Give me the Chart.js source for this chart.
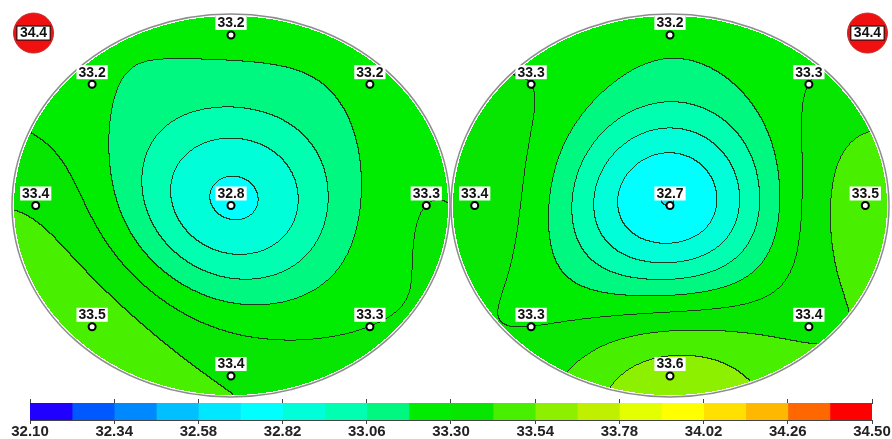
<!DOCTYPE html>
<html>
<head>
<meta charset="utf-8">
<script src="https://cdn.jsdelivr.net/npm/chart.js@4.4.0/dist/chart.umd.min.js"></script>
<style>
body{margin:0;background:#fff;}
#wrap{position:relative;width:892px;height:439px;overflow:hidden;}
#mapa{position:absolute;left:0;top:0;}
#barra{position:absolute;left:0;top:393px;}
</style>
</head>
<body>
<div id="wrap">
<canvas id="mapa" width="892" height="439"></canvas>
<canvas id="barra" width="892" height="46"></canvas>
</div>
<script>
//Pontos de medicao (raio 1 = borda do disco)
var pontosX = [0, -0.64, 0.64, -0.9, 0, 0.9, -0.64, 0.64, 0];
var pontosY = [0.9, 0.64, 0.64, 0, 0, 0, -0.64, -0.64, -0.9];
var valoresEsq = [33.2, 33.2, 33.2, 33.4, 32.8, 33.3, 33.5, 33.3, 33.4];
var valoresDir = [33.2, 33.3, 33.3, 33.4, 32.7, 33.5, 33.3, 33.4, 33.6];
var centros = [0, 2.023];

//marcador vermelho do canto
var cantoX = [-0.91, 0.91];
var cantoY = [0.91, 0.91];
var valorMax = [34.4, 34.4];

//escala de cores
var ticksEscala = [32.10, 32.34, 32.58, 32.82, 33.06, 33.30, 33.54, 33.78, 34.02, 34.26, 34.50];
var limites = [32.10, 32.22, 32.34, 32.46, 32.58, 32.70, 32.82, 32.94, 33.06, 33.18, 33.30,
               33.42, 33.54, 33.66, 33.78, 33.90, 34.02, 34.14, 34.26, 34.38, 34.50];
var cores = ['#2000ff', '#0058ff', '#0088ff', '#00c0ff', '#00e8ff', '#00ffff', '#00ffd8', '#00ffb0',
             '#00f880', '#00ec00', '#06e600', '#48f000', '#8cf000', '#c0f000', '#e4ff00', '#ffff00',
             '#ffe000', '#ffb800', '#ff6800', '#ff0000'];

var fonte = '"Liberation Sans", Arial, sans-serif';
var alcance = 0.54; //largura da funcao gaussiana

function rgb(hex){
    return [parseInt(hex.substr(1,2),16), parseInt(hex.substr(3,2),16), parseInt(hex.substr(5,2),16)];
}
var coresRgb = cores.map(rgb);

//interpolacao RBF gaussiana + plano pelos pontos medidos
function phi(r){ return Math.exp(-(r/alcance)*(r/alcance)); }

function montarSuperficie(xs, ys, zs){
    var n = zs.length, m = n + 3;
    var A = [], b = [];
    for (var i = 0; i < m; i++){ A.push(new Array(m).fill(0)); b.push(0); }
    for (var i = 0; i < n; i++){
        for (var j = 0; j < n; j++){
            A[i][j] = phi(Math.hypot(xs[i]-xs[j], ys[i]-ys[j]));
        }
        A[i][n] = 1; A[i][n+1] = xs[i]; A[i][n+2] = ys[i];
        A[n][i] = 1; A[n+1][i] = xs[i]; A[n+2][i] = ys[i];
        b[i] = zs[i];
    }
    //eliminacao de gauss
    for (var c = 0; c < m; c++){
        var p = c;
        for (var r = c+1; r < m; r++) if (Math.abs(A[r][c]) > Math.abs(A[p][c])) p = r;
        var t = A[c]; A[c] = A[p]; A[p] = t;
        var tb = b[c]; b[c] = b[p]; b[p] = tb;
        for (var r = c+1; r < m; r++){
            var f = A[r][c] / A[c][c];
            for (var k = c; k < m; k++) A[r][k] -= f * A[c][k];
            b[r] -= f * b[c];
        }
    }
    var w = new Array(m).fill(0);
    for (var r = m-1; r >= 0; r--){
        var s = b[r];
        for (var k = r+1; k < m; k++) s -= A[r][k] * w[k];
        w[r] = s / A[r][r];
    }
    return function(u, v){
        var z = w[n] + w[n+1]*u + w[n+2]*v;
        for (var i = 0; i < n; i++) z += w[i] * phi(Math.hypot(u-xs[i], v-ys[i]));
        return z;
    };
}

function faixaDe(z){
    var k = 0;
    while (k < cores.length-1 && z >= limites[k+1]) k++;
    return k;
}

var pluginCampo = {
    id: 'campo',
    beforeDatasetsDraw: function(chart){
        var ctx = chart.ctx;
        var xs = chart.scales.x, ys = chart.scales.y;
        var W = chart.width, H = chart.height;
        var img = ctx.getImageData(0, 0, W, H);
        var px = img.data;
        var linha = [30, 60, 30];
        var elipses = [];
        [valoresEsq, valoresDir].forEach(function(vals, d){
            var f = montarSuperficie(pontosX, pontosY, vals);
            var cx = xs.getPixelForValue(centros[d]), cy = ys.getPixelForValue(0);
            var rx = xs.getPixelForValue(centros[d]+1) - cx, ry = cy - ys.getPixelForValue(1);
            elipses.push([cx, cy, rx, ry]);
            var x0 = Math.max(0, Math.floor(cx-rx)), x1 = Math.min(W-1, Math.ceil(cx+rx));
            var y0 = Math.max(0, Math.floor(cy-ry)), y1 = Math.min(H-1, Math.ceil(cy+ry));
            var w = x1-x0+1, h = y1-y0+1;
            var faixa = new Int16Array(w*h).fill(-1);
            for (var j = 0; j < h; j++){
                for (var i = 0; i < w; i++){
                    var u = (x0+i+0.5-cx)/rx, v = -(y0+j+0.5-cy)/ry;
                    if (u*u+v*v > 1) continue;
                    faixa[j*w+i] = faixaDe(f(u, v));
                }
            }
            for (var j = 0; j < h; j++){
                for (var i = 0; i < w; i++){
                    var k = faixa[j*w+i];
                    if (k < 0) continue;
                    var borda = false;
                    if (i < w-1 && faixa[j*w+i+1] >= 0 && faixa[j*w+i+1] != k) borda = true;
                    if (j < h-1 && faixa[(j+1)*w+i] >= 0 && faixa[(j+1)*w+i] != k) borda = true;
                    var c = borda ? linha : coresRgb[k];
                    var o = ((y0+j)*W + x0+i)*4;
                    px[o] = c[0]; px[o+1] = c[1]; px[o+2] = c[2]; px[o+3] = 255;
                }
            }
        });
        ctx.putImageData(img, 0, 0);
        ctx.save();
        ctx.strokeStyle = '#8c8c8c';
        ctx.lineWidth = 1.5;
        elipses.forEach(function(e){
            ctx.beginPath();
            ctx.ellipse(e[0], e[1], e[2]+2, e[3]+2, 0, 0, Math.PI*2);
            ctx.stroke();
        });
        ctx.restore();
    },
    afterDatasetsDraw: function(chart){
        var ctx = chart.ctx;
        ctx.save();
        ctx.font = 'bold 14px ' + fonte;
        ctx.textAlign = 'center';
        ctx.textBaseline = 'middle';
        [valoresEsq, valoresDir].forEach(function(vals, d){
            chart.getDatasetMeta(d).data.forEach(function(pt, i){
                var txt = vals[i].toFixed(1);
                var w = ctx.measureText(txt).width + 4;
                ctx.fillStyle = '#fff';
                ctx.fillRect(pt.x - w/2, pt.y - 19, w, 14);
                ctx.fillStyle = '#111';
                ctx.fillText(txt, pt.x, pt.y - 11.5);
            });
        });
        chart.getDatasetMeta(2).data.forEach(function(pt, i){
            var txt = valorMax[i].toFixed(1);
            var w = ctx.measureText(txt).width + 6;
            ctx.fillStyle = '#fff';
            ctx.fillRect(pt.x - w/2, pt.y - 7, w, 14);
            ctx.strokeStyle = '#000';
            ctx.lineWidth = 1;
            ctx.strokeRect(pt.x - w/2, pt.y - 7, w, 14);
            ctx.fillStyle = '#111';
            ctx.fillText(txt, pt.x, pt.y + 0.5);
        });
        ctx.restore();
    }
};

var conjuntos = [valoresEsq, valoresDir].map(function(vals, d){
    return {
        label: 'disco ' + (d+1),
        data: pontosX.map(function(x, i){ return {x: centros[d] + x, y: pontosY[i]}; }),
        pointRadius: 3.5,
        pointBorderWidth: 2,
        pointBackgroundColor: '#fff',
        pointBorderColor: '#000'
    };
});
conjuntos.push({
    label: 'maximo',
    data: cantoX.map(function(x, d){ return {x: centros[d] + x, y: cantoY[d]}; }),
    pointRadius: 20,
    pointBorderWidth: 1,
    pointBackgroundColor: '#f01010',
    pointBorderColor: '#c03030'
});

var myChart = new Chart(document.getElementById('mapa').getContext('2d'), {
    type: 'scatter',
    data: {datasets: conjuntos},
    options: {
        responsive: false,
        animation: false,
        events: [],
        layout: {padding: 0, autoPadding: false},
        plugins: {legend: {display: false}, tooltip: {enabled: false}},
        scales: {
            x: {type: 'linear', min: -1.0645, max: 3.046, display: false},
            y: {type: 'linear', min: -1.2322, max: 1.0844, display: false}
        }
    },
    plugins: [pluginCampo]
});

//barra de cores
function fixarTicks(escala){
    escala.ticks = ticksEscala.map(function(v){ return {value: v}; });
}
var faixas = cores.map(function(c, i){
    return {
        data: [[limites[i], limites[i+1]]],
        backgroundColor: c,
        borderWidth: 0,
        barPercentage: 1,
        categoryPercentage: 1
    };
});
var barra = new Chart(document.getElementById('barra').getContext('2d'), {
    type: 'bar',
    data: {labels: [''], datasets: faixas},
    options: {
        indexAxis: 'y',
        responsive: false,
        animation: false,
        events: [],
        layout: {padding: {left: 30, right: 20, top: 6, bottom: 0}},
        plugins: {legend: {display: false}, tooltip: {enabled: false}},
        scales: {
            x: {
                type: 'linear', min: 32.10, max: 34.50, position: 'bottom', stacked: false,
                afterBuildTicks: fixarTicks,
                grid: {drawOnChartArea: false, tickLength: 4, color: '#444'},
                border: {color: '#444'},
                ticks: {
                    padding: 0, color: '#222', autoSkip: false, maxRotation: 0,
                    font: {family: fonte, size: 15, weight: 'bold', lineHeight: 1},
                    callback: function(v){ return Number(v).toFixed(2); }
                }
            },
            x2: {
                type: 'linear', min: 32.10, max: 34.50, position: 'top',
                afterBuildTicks: fixarTicks,
                grid: {drawOnChartArea: false, tickLength: 4, color: '#444'},
                border: {color: '#444'},
                ticks: {display: false}
            },
            y: {stacked: true, display: false}
        }
    }
});
</script>
</body>
</html>
